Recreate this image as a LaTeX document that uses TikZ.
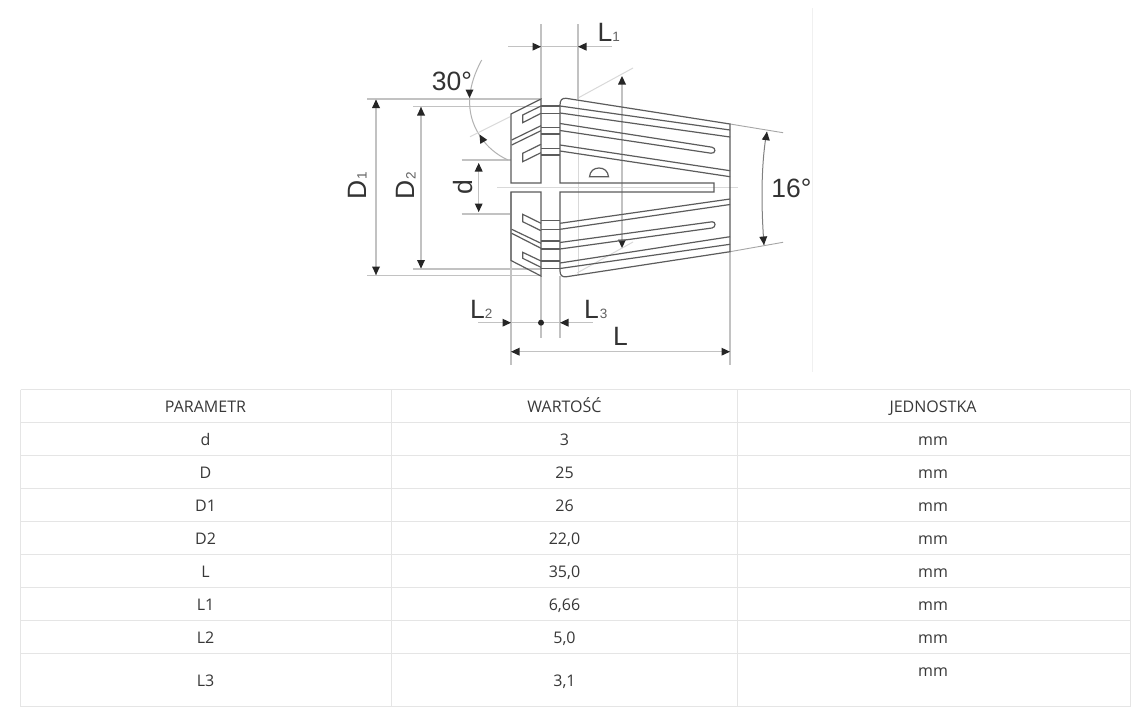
\documentclass[tikz,border=0pt]{standalone}
\usepackage{fontspec}
\setmainfont{Open Sans}
\newfontfamily\arialf{Liberation Sans}
\newcommand{\headtip}[3]{\fill[tipfill,shift={(#1,#2)},rotate=#3] (0,0)--(-8.5,4)--(-8.5,-4)--cycle;}
\tikzset{
  tipfill/.style={fill=black!85},
  dimln/.style={draw=black!24,line width=1.4pt},
  faintln/.style={draw=black!15,line width=1pt},
  bodyln/.style={draw=black!64,line width=1.2pt,line join=miter},
  tabln/.style={draw=black!10,line width=1pt},
  celltxt/.style={inner sep=0pt,text=black!78,font=\fontsize{16}{18}\selectfont,anchor=base},
  big/.style={inner sep=0pt,text=black!80,font=\arialf\fontsize{26.5}{30}\selectfont},
  small/.style={inner sep=0pt,text=black!62,font=\arialf\fontsize{13.5}{15}\selectfont}
}
\begin{document}
\begin{tikzpicture}[x=1pt,y=-1pt]
\useasboundingbox (0,0) rectangle (1143,720);
\fill[white] (0,0) rectangle (1143,720);
\draw[draw=black!6,line width=1pt] (812,8)--(812,372);
% --- extension and dimension lines
\draw[faintln] (497,187)--(738,187);
\draw[faintln] (578,99)--(578,276);
\draw[faintln] (578,98)--(633,68);
\draw[faintln] (577,273)--(633,242);
\draw[dimln] (541,24)--(541,99);
\draw[dimln] (578,24)--(578,99);
\draw[dimln] (508,46.7)--(612,46.7);
\headtip{541}{46.7}{0}\headtip{578}{46.7}{180}
\draw[dimln] (367,99)--(541,99);
\draw[dimln] (367,275.7)--(541,275.7);
\draw[dimln] (376,100)--(376,275);
\headtip{376}{99.5}{90}\headtip{376}{275}{-90}
\draw[dimln] (413,106.7)--(541,106.7);
\draw[dimln] (413,269)--(541,269);
\draw[dimln] (421,107)--(421,268);
\headtip{421}{107}{90}\headtip{421}{268.5}{-90}
\draw[dimln] (461.7,160)--(511,160);
\draw[dimln] (461.7,214)--(511,214);
\draw[dimln] (478.7,164)--(478.7,212);
\headtip{478.7}{163}{90}\headtip{478.7}{212}{-90}
\draw[dimln] (511,192)--(511,365);
\draw[dimln] (541,276)--(541,338);
\draw[dimln] (560,276)--(560,338);
\draw[dimln] (730,252)--(730,365);
\draw[dimln] (478,322.7)--(593,322.7);
\headtip{511}{322.7}{0}\headtip{560}{322.7}{180}
\fill[black!85] (541,322.7) circle (3);
\draw[dimln] (511,351.7)--(730,351.7);
\headtip{511}{351.7}{180}\headtip{730}{351.7}{0}
\draw[draw=black!30,line width=1pt] (481.7,60) .. controls (468,85) and (464,112) .. (480,136) .. controls (487,147) and (497,155) .. (508,160);
\headtip{469.5}{98}{-90}\headtip{479.5}{134.5}{120}
\draw[faintln] (470,136.7)--(510,116.7);
\draw[dimln] (622,78)--(622,246);
\headtip{622}{76}{90}\headtip{622}{248}{-90}
\draw[draw=black!35,line width=0.9pt] (730,124)--(783,132.7);
\draw[draw=black!35,line width=0.9pt] (730,251.7)--(783,242.3);
\draw[draw=black!50,line width=1pt] (766.7,132) .. controls (761,165) and (761,205) .. (764,245);
\headtip{767}{131.7}{82}\headtip{764}{245}{-85}
% --- collet, left block
\draw[bodyln] (511,114)--(541,99)--(541,183)--(511,183)--cycle;
\draw[bodyln] (541,106)--(522.7,115)--(522.7,122.7)--(541,113.3);
\draw[bodyln] (511.7,140)--(541,125.7);
\draw[bodyln] (511.7,145)--(541,130.7);
\draw[bodyln] (541,144.3)--(522.7,153.3)--(522.7,161.7)--(541,152.7);
\draw[bodyln] (511,192)--(541,192)--(541,276)--(511,260.5)--cycle;
\draw[bodyln] (541,223.3)--(522.7,214.3)--(522.7,221.7)--(541,230.7);
\draw[bodyln] (511.7,229.3)--(541,243.3);
\draw[bodyln] (511.7,233.3)--(541,248.3);
\draw[bodyln] (541,261)--(522.7,252.3)--(522.7,258.3)--(541,267.3);
% --- neck
\foreach \yy in {106,113.3,127.5,134,148.3,155,220.7,229.3,241,249,261,268.3}
  \draw[bodyln] (541,\yy)--(560,\yy);
% --- collet, right body
\draw[bodyln] (714,183)--(560,183)--(560,105) .. controls (560,100) and (562,98) .. (566,98.3)--(730,124)--(730,251.7)--(566,276.8) .. controls (562,277.2) and (560,275) .. (560,271)--(560,192)--(714,192)--cycle;
\draw[bodyln] (560,106)--(730,130);
\draw[bodyln] (560,113)--(730,137);
\draw[bodyln] (560,123.5)--(712,147.2) .. controls (716,147.8) and (716,153.8) .. (711,153.2)--(560,130.5);
\draw[bodyln] (560,145)--(730,170.7);
\draw[bodyln] (560,151)--(730,176.7);
\draw[bodyln] (560,223.3)--(730,199);
\draw[bodyln] (560,229.3)--(730,204.5);
\draw[bodyln] (560,242.5)--(712,221.8) .. controls (716,221.4) and (716,227.4) .. (712,228)--(560,249);
\draw[bodyln] (560,263)--(730,236.7);
\draw[bodyln] (560,268.5)--(730,244.3);
\draw[bodyln] (589.5,176.7)--(608.5,176.7) .. controls (608,171) and (604,168) .. (599,168) .. controls (594,168) and (590,171) .. (589.5,176.7)--cycle;
% --- drawing labels
\node[big] (tL1) at (605,32) {L};
\node[small] (tL1s) at (616,37) {1};
\node[big] (t30) at (452,81) {30\textdegree};
\node[big,rotate=90] (tD1) at (357,189.5) {D};
\node[small,rotate=90] (tD1s) at (362,176) {1};
\node[big,rotate=90] (tD2) at (405.5,189.5) {D};
\node[small,rotate=90] (tD2s) at (411,176) {2};
\node[big,rotate=90] (td) at (463.5,187.5) {d};
\node[big] (tL2) at (477.5,309) {L};
\node[small] (tL2s) at (488.5,314) {2};
\node[big] (tL3) at (591.5,309) {L};
\node[small] (tL3s) at (603.5,314) {3};
\node[big] (tL) at (620.5,336) {L};
\node[big] (t16) at (791.5,188.5) {16\textdegree};
% --- table
\foreach \yy in {389.5,422.5,455.5,488.5,521.5,554.5,587.5,620.5,653.5,706.5}
  \draw[tabln] (20.5,\yy)--(1130,\yy);
\foreach \xx in {20.5,391.5,737.5,1130}
  \draw[tabln] (\xx,389.5)--(\xx,706.5);
\node[celltxt] (h1) at (205.5,412) {PARAMETR};
\node[celltxt] (h2) at (564.5,412) {WARTOŚĆ};
\node[celltxt] (h3) at (933,412) {JEDNOSTKA};
\node[celltxt] (a1) at (205.5,445) {d};
\node[celltxt] (b1) at (564.5,445) {3};
\node[celltxt] (c1) at (933,445) {mm};
\node[celltxt] (a2) at (205.5,478) {D};
\node[celltxt] (b2) at (564.5,478) {25};
\node[celltxt] (c2) at (933,478) {mm};
\node[celltxt] (a3) at (205.5,511) {D1};
\node[celltxt] (b3) at (564.5,511) {26};
\node[celltxt] (c3) at (933,511) {mm};
\node[celltxt] (a4) at (205.5,544) {D2};
\node[celltxt] (b4) at (564.5,544) {22,0};
\node[celltxt] (c4) at (933,544) {mm};
\node[celltxt] (a5) at (205.5,577) {L};
\node[celltxt] (b5) at (564.5,577) {35,0};
\node[celltxt] (c5) at (933,577) {mm};
\node[celltxt] (a6) at (205.5,610) {L1};
\node[celltxt] (b6) at (564.5,610) {6,66};
\node[celltxt] (c6) at (933,610) {mm};
\node[celltxt] (a7) at (205.5,643) {L2};
\node[celltxt] (b7) at (564.5,643) {5,0};
\node[celltxt] (c7) at (933,643) {mm};
\node[celltxt] (a8) at (205.5,686) {L3};
\node[celltxt] (b8) at (564.5,686) {3,1};
\node[celltxt] (c8) at (933,676) {mm};
\end{tikzpicture}
\end{document}
